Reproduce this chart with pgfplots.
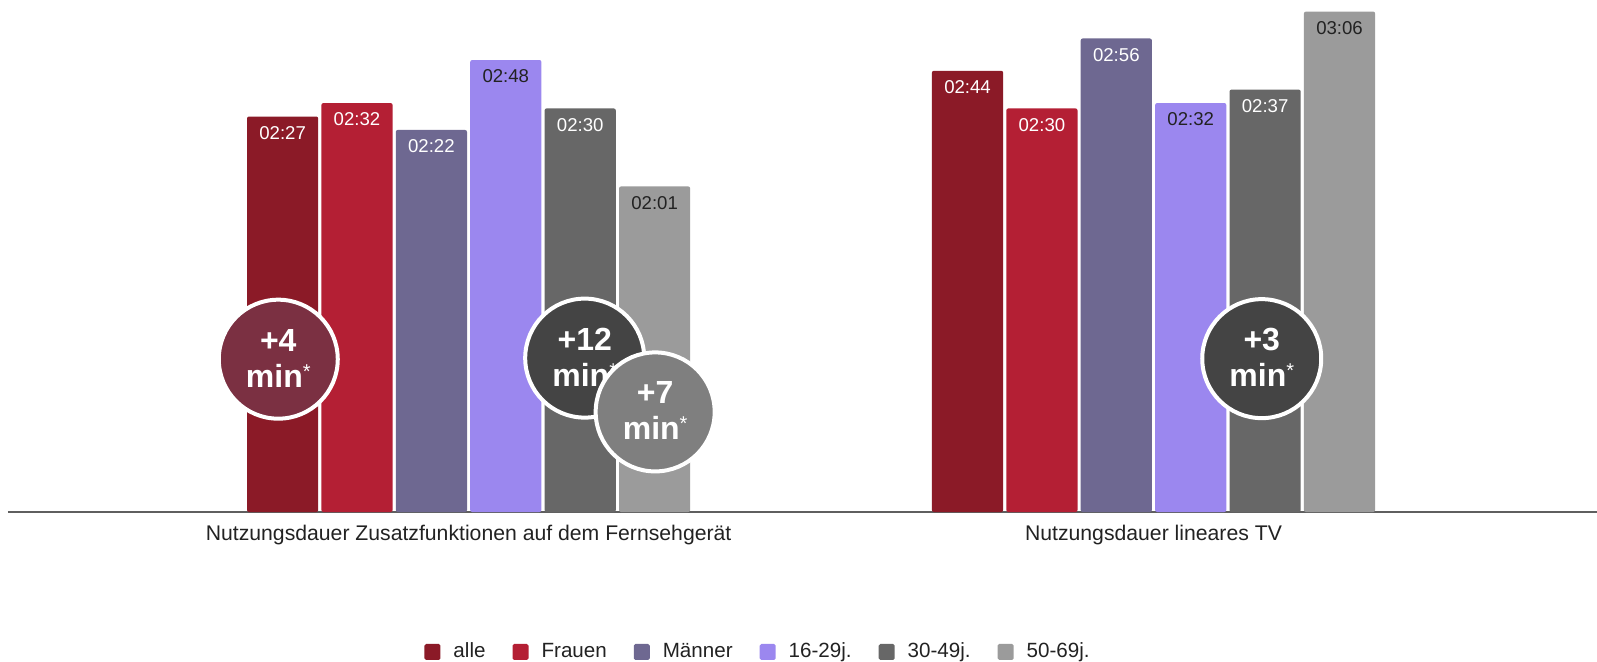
\documentclass[border=0pt]{standalone}
\usepackage{pgfplots}
\pgfplotsset{compat=1.18}
\usepackage{fontspec}
\setmainfont{Liberation Sans}
\definecolor{calle}{HTML}{8B1A27}
\definecolor{cfrauen}{HTML}{B41F34}
\definecolor{cmaenner}{HTML}{6E6891}
\definecolor{cjung}{HTML}{9B87EF}
\definecolor{cmittel}{HTML}{676767}
\definecolor{calt}{HTML}{9B9B9B}
\definecolor{cmaroon}{HTML}{7B3042}
\definecolor{cdark}{HTML}{444444}
\definecolor{cmid}{HTML}{7F7F7F}
\definecolor{ctext}{HTML}{222222}
\definecolor{cline}{HTML}{5F5F5F}
\pgfplotsset{sq/.style={legend image code/.code={\fill[##1,draw=none,rounded corners=0.8pt] (0pt,-4pt) rectangle (8pt,4pt);}}}
\tikzset{ctop/.style={anchor=base, text=white, font=\bfseries\fontsize{16pt}{16pt}\selectfont, inner sep=0pt}}
\newcommand{\minast}{min\raisebox{4.5pt}{\mdseries\fontsize{10pt}{10pt}\selectfont *}}
\begin{document}
\begin{tikzpicture}
\begin{axis}[
  name=ax,
  scale only axis, width=794.5pt, height=256pt,
  at={(4pt,0pt)}, anchor=south west,
  xmin=-0.6725, xmax=1.6475, ymin=0, ymax=190.3,
  ybar, bar width=35.6pt,
  axis y line=none,
  axis x line*=bottom,
  x axis line style={draw=cline, line width=1pt, -},
  xtick={0,1},
  xticklabels={Nutzungsdauer Zusatzfunktionen auf dem Fernsehgerät, Nutzungsdauer lineares TV},
  major tick length=0pt,
  xtick style={draw=none},
  xticklabel style={anchor=base, yshift=-14pt, font=\fontsize{10.6pt}{12pt}\selectfont, text=ctext},
  ytick=\empty,
  nodes near coords, point meta=explicit symbolic,
  every node near coord/.append style={anchor=center, yshift=-8.2pt, font=\fontsize{9.3pt}{11pt}\selectfont},
  legend style={draw=none, fill=none, at={(0.4714,-0.2734)}, anchor=center,
    font=\fontsize{10.3pt}{12pt}\selectfont, text=ctext,
    nodes={inner sep=0pt},
    /tikz/every odd column/.append style={column sep=6.5pt},
    /tikz/every even column/.append style={column sep=13.5pt}},
  legend columns=6,
  legend cell align=left,
  clip=false,
]
\addplot[fill=calle, draw=none, rounded corners=1pt, bar shift=-93pt, sq, every node near coord/.append style={text=white}]
  coordinates {(0,147) [02:27] (1,164) [02:44]};
\addplot[fill=cfrauen, draw=none, rounded corners=1pt, bar shift=-55.8pt, sq, every node near coord/.append style={text=white}]
  coordinates {(0,152) [02:32] (1,150) [02:30]};
\addplot[fill=cmaenner, draw=none, rounded corners=1pt, bar shift=-18.6pt, sq, every node near coord/.append style={text=white}]
  coordinates {(0,142) [02:22] (1,176) [02:56]};
\addplot[fill=cjung, draw=none, rounded corners=1pt, bar shift=18.6pt, sq, every node near coord/.append style={text=ctext}]
  coordinates {(0,168) [02:48] (1,152) [02:32]};
\addplot[fill=cmittel, draw=none, rounded corners=1pt, bar shift=55.8pt, sq, every node near coord/.append style={text=white}]
  coordinates {(0,150) [02:30] (1,157) [02:37]};
\addplot[fill=calt, draw=none, rounded corners=1pt, bar shift=93pt, sq, every node near coord/.append style={text=ctext}]
  coordinates {(0,121) [02:01] (1,186) [03:06]};
\legend{alle, Frauen, Männer, 16-29j., 30-49j., 50-69j.}
\filldraw[fill=cmaroon, draw=white, line width=2pt] (axis cs:-0.2779,56.8) circle[radius=29.75pt];
\node[ctop] at ([yshift=4pt]axis cs:-0.2779,56.8) {+4};
\node[ctop] at ([yshift=-14pt]axis cs:-0.2779,56.8) {\minast};
\filldraw[fill=cdark, draw=white, line width=2pt] (axis cs:0.1695,57.2) circle[radius=29.75pt];
\node[ctop] at ([yshift=4pt]axis cs:0.1695,57.2) {+12};
\node[ctop] at ([yshift=-14pt]axis cs:0.1695,57.2) {\minast};
\filldraw[fill=cmid, draw=white, line width=2pt] (axis cs:0.2724,37.2) circle[radius=29.75pt];
\node[ctop] at ([yshift=4pt]axis cs:0.2724,37.2) {+7};
\node[ctop] at ([yshift=-14pt]axis cs:0.2724,37.2) {\minast};
\filldraw[fill=cdark, draw=white, line width=2pt] (axis cs:1.158,57.0) circle[radius=29.75pt];
\node[ctop] at ([yshift=4pt]axis cs:1.158,57.0) {+3};
\node[ctop] at ([yshift=-14pt]axis cs:1.158,57.0) {\minast};
\end{axis}
\pgfresetboundingbox
\path (0pt,-74.5pt) rectangle (798.5pt,256pt);
\end{tikzpicture}
\end{document}
